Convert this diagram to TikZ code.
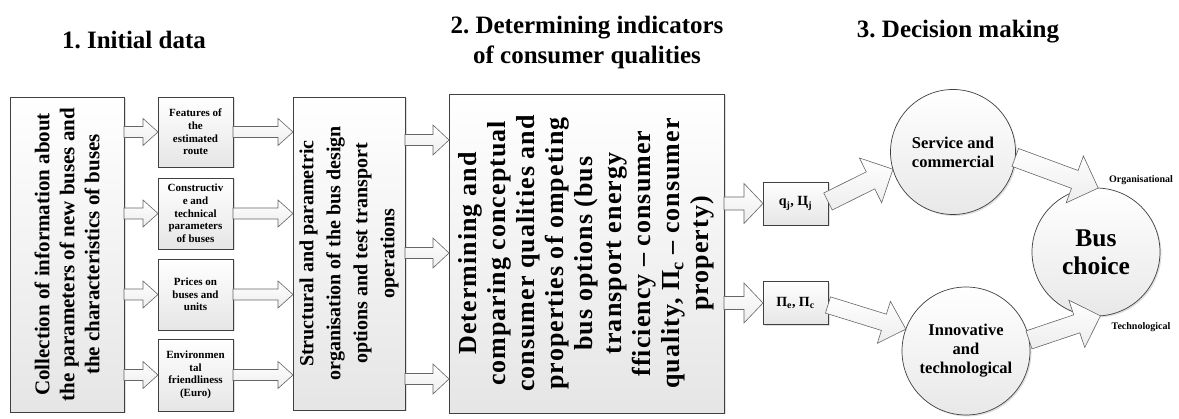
\documentclass[tikz,border=0pt]{standalone}
\usepackage{fontspec}
\setmainfont{Liberation Serif}
\frenchspacing
\usetikzlibrary{calc,shadows}
\newcommand\blockarr[5]{%
  \coordinate (bh) at ($(#2)!#5!(#1)$);
  \draw[blockarrow] ($(#1)!#3!90:(#2)$) -- ($(bh)!#3!-90:(#1)$) -- ($(bh)!#4!-90:(#1)$) -- (#2)
    -- ($(bh)!#4!90:(#1)$) -- ($(bh)!#3!90:(#1)$) -- ($(#1)!#3!-90:(#2)$) -- cycle;
}
\tikzset{
  box/.style={rectangle, draw=black!75, line width=0.7pt, top color=white, bottom color=gray!20,
    outer sep=0pt, inner sep=0pt,
    drop shadow={shadow xshift=1.5pt, shadow yshift=-1.5pt, opacity=0.25}},
  circ/.style={circle, draw=black!75, line width=0.7pt, top color=white, bottom color=gray!18,
    outer sep=0pt, inner sep=0pt, align=center, font=\bfseries,
    drop shadow={shadow xshift=1.5pt, shadow yshift=-1.5pt, opacity=0.25}},
  blockarrow/.style={draw=black!60, line width=0.6pt, top color=white, bottom color=gray!14},
  txt/.style={align=center, inner sep=0pt, font=\bfseries},
  head/.style={align=center, inner sep=0pt, font=\fontsize{25}{30}\selectfont\bfseries},
  small/.style={txt, font=\fontsize{11}{12.7}\selectfont\bfseries},
}
\begin{document}
\begin{tikzpicture}[x=1pt, y=-1pt]
\useasboundingbox (0,0) rectangle (1179,419);
% headings
\node[head] (h1) at (134,40) {1. Initial data};
\node[head] (h2) at (587,42) {2. Determining indicators\\of consumer qualities};
\node[head] (h3) at (958,32) {3. Decision making};
% column 1
\node[box, minimum width=114pt, minimum height=315pt] (coll) at (67,254.5) {};
\node[txt, rotate=90, font=\fontsize{21}{25}\selectfont\bfseries] (collt) at (coll.center)
  {Collection of information about\\the parameters of new buses and\\the characteristics of buses};
\node[box, minimum width=75pt, minimum height=70pt] (feat) at (195.5,132) {};
\node[small] (featt) at (feat.center) {Features of\\the\\estimated\\route};
\node[box, minimum width=75pt, minimum height=71pt] (cons) at (195.5,213.5) {};
\node[small] (const) at (cons.center) {Constructiv\\e and\\technical\\parameters\\of buses};
\node[box, minimum width=75pt, minimum height=71pt] (price) at (195.5,294.5) {};
\node[small] (pricet) at (price.center) {Prices on\\buses and\\units};
\node[box, minimum width=75pt, minimum height=72pt] (env) at (195.5,375) {};
\node[small] (envt) at (env.center) {Environmen\\tal\\friendliness\\(Euro)};
% structural
\node[box, minimum width=112pt, minimum height=313pt] (struct) at (349,253.5) {};
\node[txt, rotate=90, font=\fontsize{20}{27}\selectfont\bfseries] (structt) at (struct.center)
  {Structural and parametric\\organisation of the bus design\\options and test transport\\operations};
% determining
\node[box, minimum width=275pt, minimum height=319pt] (det) at (586.5,253.5) {};
\node[txt, rotate=90, font=\fontsize{26}{29}\selectfont\bfseries\addfontfeatures{LetterSpace=4}] (dett) at (det.center)
  {Determining and\\comparing conceptual\\consumer qualities and\\properties of ompeting\\bus options (bus\\transport energy\\fficiency – consumer\\quality, П\textsubscript{c} – consumer\\property)};
% indicators
\node[box, minimum width=65pt, minimum height=43pt, font=\fontsize{14}{16}\selectfont\bfseries] (qj) at (795.5,203.5) {q\textsubscript{j}, Ц\textsubscript{j}};
\node[box, minimum width=65pt, minimum height=43pt, font=\fontsize{14}{16}\selectfont\bfseries] (pe) at (795.5,303) {П\textsubscript{e}, П\textsubscript{c}};
% circles
\node[circ, minimum size=125pt, font=\fontsize{16.5}{19}\selectfont\bfseries] (serv) at (953,152) {Service and\\commercial};
\node[circ, minimum size=128pt, font=\fontsize{25.5}{28}\selectfont\bfseries] (bus) at (1096,252) {Bus\\choice};
\node[circ, minimum size=128pt, font=\fontsize{16.5}{19}\selectfont\bfseries] (innov) at (966,351) {Innovative\\and\\technological};
\node[txt, font=\fontsize{10}{12}\selectfont\bfseries] (org) at (1141,180) {Organisational};
\node[txt, font=\fontsize{10}{12}\selectfont\bfseries] (tech) at (1141,327) {Technological};
% arrows column 1 -> small boxes
\foreach \b in {feat,cons,price,env}{
  \coordinate (s) at (coll.east |- \b.west);
  \blockarr{s}{\b.west}{5.5pt}{13.5pt}{15pt}
  \coordinate (s) at (\b.east);
  \coordinate (t) at (struct.west |- \b.east);
  \blockarr{s}{t}{5.5pt}{13.5pt}{15pt}
}
% structural -> determining
\foreach \yy in {140,253,379}{
  \coordinate (s) at (struct.east |- 0,\yy);
  \coordinate (t) at (det.west |- 0,\yy);
  \blockarr{s}{t}{5.5pt}{15pt}{16pt}
}
% determining -> indicators
\foreach \b in {qj,pe}{
  \coordinate (s) at (det.east |- \b.west);
  \blockarr{s}{\b.west}{6.5pt}{20pt}{19pt}
}
% indicators -> circles
\coordinate (s) at ($(qj.east)+(0,-2)$);
\blockarr{s}{serv.196}{9.5pt}{25pt}{25pt}
\coordinate (s) at ($(pe.east)+(0,2)$);
\blockarr{s}{innov.160}{8.5pt}{22pt}{23pt}
% circles -> bus choice
\blockarr{serv.-5}{bus.88}{9.5pt}{25pt}{25pt}
\blockarr{innov.10}{bus.-86}{9.5pt}{25pt}{25pt}
\end{tikzpicture}
\end{document}
